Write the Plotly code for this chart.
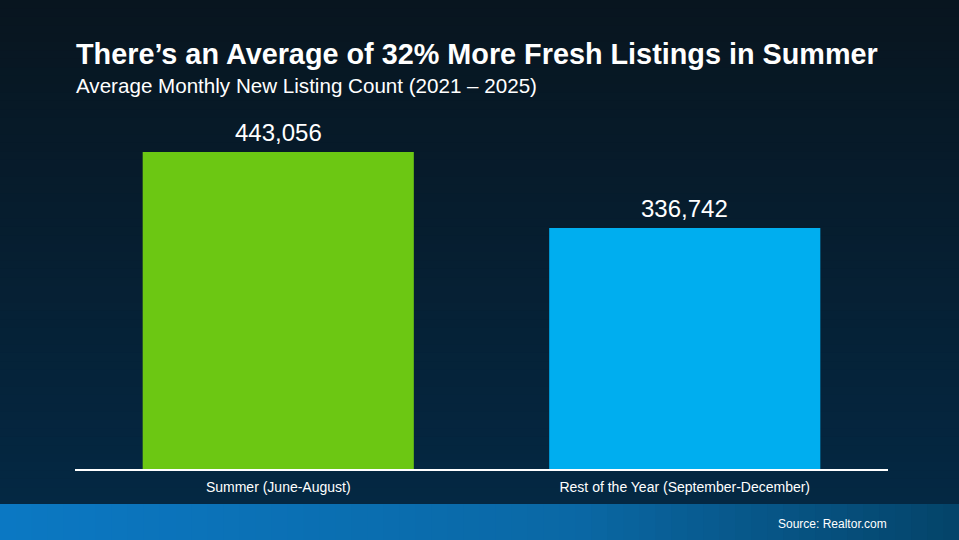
import plotly.graph_objects as go

categories = ["Summer (June-August)", "Rest of the Year (September-December)"]
listings = [443056, 336742]
bar_colors = ["#6cc713", "#00aeef"]

title = "There’s an Average of 32% More Fresh Listings in Summer"
subtitle = "Average Monthly New Listing Count (2021 – 2025)"
source = "Source: Realtor.com"

W, H = 959, 540


def mix(c1, c2, t):
    a = [int(c1[i:i + 2], 16) for i in (1, 3, 5)]
    b = [int(c2[i:i + 2], 16) for i in (1, 3, 5)]
    return "rgb(%d,%d,%d)" % tuple(round(a[k] + (b[k] - a[k]) * t) for k in range(3))


shapes = []
# dark vertical gradient for the main area
band_top = 36 / H
n = 60
for i in range(n):
    y0 = band_top + (1 - band_top) * i / n
    y1 = band_top + (1 - band_top) * (i + 1) / n
    shapes.append(dict(type="rect", xref="paper", yref="paper", x0=0, x1=1, y0=y0, y1=y1 + 0.002,
                       fillcolor=mix("#042843", "#08151f", i / (n - 1)), line_width=0, layer="below"))
# blue footer band, horizontal gradient
m = 60
for i in range(m):
    t = i / (m - 1)
    if t < 0.6:
        col = mix("#0b78c3", "#0a68a5", t / 0.6)
    else:
        col = mix("#0a68a5", "#04446a", (t - 0.6) / 0.4)
    shapes.append(dict(type="rect", xref="paper", yref="paper", x0=i / m, x1=(i + 1) / m + 0.002,
                       y0=0, y1=band_top, fillcolor=col, line_width=0, layer="below"))

fig = go.Figure(go.Bar(
    x=categories,
    y=listings,
    marker_color=bar_colors,
    marker_line_width=0,
    width=0.667,
    hoverinfo="skip",
))

annotations = [
    dict(x=c, y=v, xref="x", yref="y", text=f"{v:,}", showarrow=False, yanchor="bottom", yshift=4,
         font=dict(family="Liberation Sans, Arial", size=24, color="white"))
    for c, v in zip(categories, listings)
]
annotations += [
    dict(x=74 / W, y=1 - 54 / H, xref="paper", yref="paper", xanchor="left", yanchor="middle",
         text=f"<b>{title}</b>", showarrow=False,
         font=dict(family="Liberation Sans, Arial", size=28.8, color="white")),
    dict(x=74 / W, y=1 - 86 / H, xref="paper", yref="paper", xanchor="left", yanchor="middle",
         text=subtitle, showarrow=False,
         font=dict(family="Liberation Sans, Arial", size=20.6, color="white")),
    dict(x=889 / W, y=1 - 524 / H, xref="paper", yref="paper", xanchor="right", yanchor="middle",
         text=source, showarrow=False,
         font=dict(family="Liberation Sans, Arial", size=12, color="white")),
]

fig.update_layout(
    width=W,
    height=H,
    margin=dict(l=0, r=0, t=0, b=0),
    paper_bgcolor="#061b2c",
    plot_bgcolor="rgba(0,0,0,0)",
    showlegend=False,
    shapes=shapes,
    annotations=annotations,
    xaxis=dict(
        domain=[75 / W, 888 / W],
        showline=True, linecolor="white", linewidth=1.5,
        showgrid=False, zeroline=False,
        tickfont=dict(family="Liberation Sans, Arial", size=14, color="white"),
        ticks="outside", ticklen=4, tickcolor="rgba(0,0,0,0)",
        fixedrange=True,
    ),
    yaxis=dict(
        domain=[(H - 469) / H, (H - 111.2) / H],
        range=[0, 500000],
        visible=False,
        fixedrange=True,
    ),
)

fig.write_html(
    "out.html",
    config={"displayModeBar": False},
    post_script="document.body.style.margin='0';document.body.style.overflow='hidden';",
)
